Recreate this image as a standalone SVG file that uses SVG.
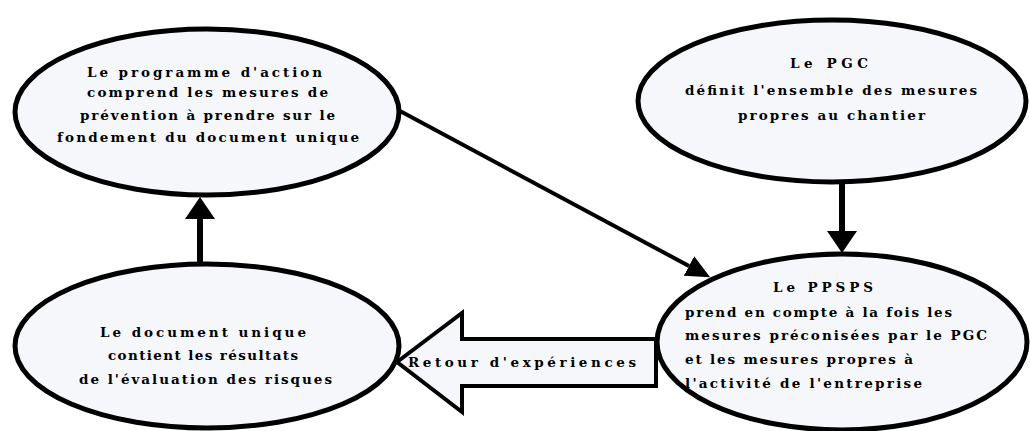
<svg xmlns="http://www.w3.org/2000/svg" width="1030" height="431" viewBox="0 0 1030 431">
<style>
.node{fill:#f6f7fb;stroke:#000;stroke-width:5}
.t{font-family:"DejaVu Serif","Liberation Serif",serif;font-size:13.5px;font-weight:bold;fill:#000}
.thick{stroke:#000;stroke-width:6;fill:none}
.thin{stroke:#000;stroke-width:4;fill:none}
.block{fill:#f6f7fb;stroke:#000;stroke-width:4;stroke-linejoin:miter}
</style>
<defs>
<marker id="headL" markerUnits="userSpaceOnUse" markerWidth="22" markerHeight="30" refX="0" refY="15" orient="auto" viewBox="0 0 22 30">
<path d="M0,0 L22,15 L0,30 z" fill="#000"/>
</marker>
<marker id="headS" markerUnits="userSpaceOnUse" markerWidth="24" markerHeight="22" refX="0" refY="11" orient="auto" viewBox="0 0 24 22">
<path d="M0,0 L24,11 L0,22 z" fill="#000"/>
</marker>
</defs>
<rect width="1030" height="431" fill="#fff"/>
<g id="connectors">
<line class="thick" x1="200" y1="264" x2="200" y2="219" marker-end="url(#headL)"/>
<line class="thick" x1="842" y1="182" x2="842" y2="231" marker-end="url(#headL)"/>
<line class="thin" x1="400" y1="111" x2="689" y2="266" marker-end="url(#headS)"/>
<g id="retour">
<polygon class="block" points="397,362 462,313 462,339 656,339 656,386 462,386 462,412"/>
<text class="t" x="408" y="367" textLength="228" lengthAdjust="spacing">Retour d'expériences</text>
</g>
</g>
<g id="programme">
<ellipse class="node" cx="207" cy="112" rx="192" ry="83"/>
<text class="t" x="87" y="77" textLength="235" lengthAdjust="spacing">Le programme d'action</text>
<text class="t" x="87" y="97" textLength="241" lengthAdjust="spacing">comprend les mesures de</text>
<text class="t" x="80" y="120" textLength="255" lengthAdjust="spacing">prévention à prendre sur le</text>
<text class="t" x="57" y="142" textLength="302" lengthAdjust="spacing">fondement du document unique</text>
</g>
<g id="pgc">
<ellipse class="node" cx="832" cy="101" rx="194" ry="81"/>
<text class="t" x="790" y="68" textLength="78" lengthAdjust="spacing">Le PGC</text>
<text class="t" x="685" y="95" textLength="292" lengthAdjust="spacing">définit l'ensemble des mesures</text>
<text class="t" x="738" y="120" textLength="187" lengthAdjust="spacing">propres au chantier</text>
</g>
<g id="document">
<ellipse class="node" cx="207" cy="346" rx="192" ry="82"/>
<text class="t" x="100" y="337" textLength="206" lengthAdjust="spacing">Le document unique</text>
<text class="t" x="108" y="360" textLength="190" lengthAdjust="spacing">contient les résultats</text>
<text class="t" x="79" y="384" textLength="253" lengthAdjust="spacing">de l'évaluation des risques</text>
</g>
<g id="ppsps">
<ellipse class="node" cx="842" cy="342" rx="185" ry="88"/>
<text class="t" x="773" y="292" textLength="100" lengthAdjust="spacing">Le PPSPS</text>
<text class="t" x="685" y="317" textLength="267" lengthAdjust="spacing">prend en compte à la fois les</text>
<text class="t" x="685" y="340" textLength="302" lengthAdjust="spacing">mesures préconisées par le PGC</text>
<text class="t" x="685" y="364" textLength="228" lengthAdjust="spacing">et les mesures propres à</text>
<text class="t" x="685" y="388" textLength="237" lengthAdjust="spacing">l'activité de l'entreprise</text>
</g>
</svg>
